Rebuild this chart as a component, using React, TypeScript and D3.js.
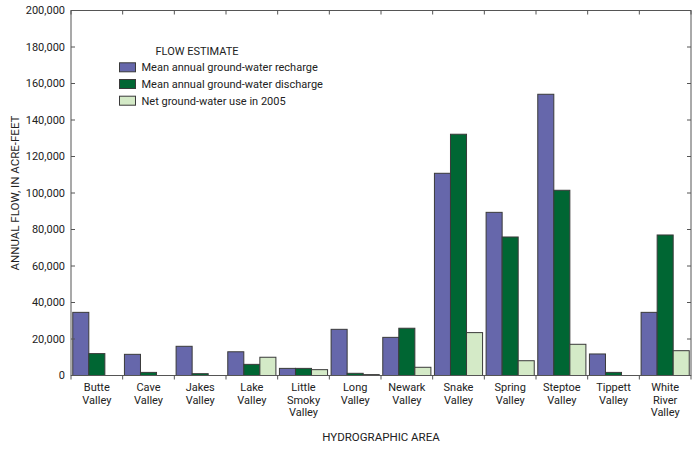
import React from "react";
import * as d3 from "d3";

const categories = [
  ["Butte", "Valley"],
  ["Cave", "Valley"],
  ["Jakes", "Valley"],
  ["Lake", "Valley"],
  ["Little", "Smoky", "Valley"],
  ["Long", "Valley"],
  ["Newark", "Valley"],
  ["Snake", "Valley"],
  ["Spring", "Valley"],
  ["Steptoe", "Valley"],
  ["Tippett", "Valley"],
  ["White", "River", "Valley"],
];
const recharge = [34600, 11600, 16000, 13000, 3900, 25300, 20900, 110800, 89400, 154100, 11800, 34600];
const discharge = [12000, 1700, 1000, 6100, 3900, 1200, 25900, 132200, 75900, 101500, 1700, 77000];
const netUse = [0, 0, 0, 10000, 3200, 500, 4500, 23500, 8100, 17100, 0, 13600];
const seriesNames = [
  "Mean annual ground-water recharge",
  "Mean annual ground-water discharge",
  "Net ground-water use in 2005",
];
const yTicks = [0, 20000, 40000, 60000, 80000, 100000, 120000, 140000, 160000, 180000, 200000];
const colors = ["#6667ab", "#006633", "#d4eac7"];

const FONT = "'Liberation Sans Narrow', 'Arial Narrow', 'Roboto', sans-serif";

export default function App() {
  const W = 695, H = 452;
  const left = 71, right = 691, top = 10.5, bottom = 375.5;
  const x = d3.scaleBand<number>().domain(d3.range(categories.length)).range([left, right]).paddingInner(0).paddingOuter(0);
  const inner = d3.scaleBand<number>().domain([0, 1, 2]).range([0, x.bandwidth()]).paddingOuter(0.11).paddingInner(0);
  const y = d3.scaleLinear().domain([0, 200000]).range([bottom, top]);
  const series = [recharge, discharge, netUse];
  const fmt = d3.format(",");
  const boundaries = d3.range(categories.length + 1).map((i) => left + i * x.step());

  return (
    <svg width={W} height={H} style={{ position: "absolute", left: 0, top: 0, background: "#fff" }} fontFamily={FONT}>
      {categories.map((_, i) =>
        series.map((s, k) =>
          s[i] > 0 ? (
            <rect
              key={`b${i}-${k}`}
              x={(x(i) as number) + (inner(k) as number)}
              y={y(s[i])}
              width={inner.bandwidth()}
              height={bottom - y(s[i])}
              fill={colors[k]}
              stroke="#3a3a3a"
              strokeWidth={1}
            />
          ) : null
        )
      )}
      <rect x={left} y={top} width={right - left} height={bottom - top} fill="none" stroke="#555" strokeWidth={1} />
      {yTicks.map((t) => (
        <g key={`y${t}`}>
          <line x1={left} x2={left + 4} y1={y(t)} y2={y(t)} stroke="#555" />
          <line x1={right - 4} x2={right} y1={y(t)} y2={y(t)} stroke="#555" />
          <text x={left - 6} y={y(t)} dy="0.35em" textAnchor="end" fontSize={11} fill="#222">
            {fmt(t)}
          </text>
        </g>
      ))}
      {boundaries.map((b, i) => (
        <g key={`x${i}`}>
          <line x1={b} x2={b} y1={bottom} y2={bottom + 4} stroke="#555" />
          <line x1={b} x2={b} y1={top} y2={top + 4} stroke="#555" />
        </g>
      ))}
      {categories.map((lines, i) => (
        <text key={`c${i}`} textAnchor="middle" fontSize={11} fill="#222">
          {lines.map((l, j) => (
            <tspan key={j} x={(x(i) as number) + x.bandwidth() / 2} y={391 + j * 12.5}>
              {l}
            </tspan>
          ))}
        </text>
      ))}
      <text x={(left + right) / 2} y={441} textAnchor="middle" fontSize={11.5} fill="#222">
        HYDROGRAPHIC AREA
      </text>
      <text
        transform={`translate(19,${(top + bottom) / 2}) rotate(-90)`}
        textAnchor="middle"
        fontSize={11.5}
        fill="#222"
      >
        ANNUAL FLOW, IN ACRE-FEET
      </text>
      <text x={155.5} y={55} fontSize={11} fill="#222">
        FLOW ESTIMATE
      </text>
      {seriesNames.map((n, k) => (
        <g key={`l${k}`}>
          <rect x={119.5} y={62.8 + k * 16.7} width={16} height={9} fill={colors[k]} stroke="#3a3a3a" strokeWidth={1} />
          <text x={141.5} y={67.3 + k * 16.7} dy="0.35em" fontSize={11} fill="#222">
            {n}
          </text>
        </g>
      ))}
    </svg>
  );
}
